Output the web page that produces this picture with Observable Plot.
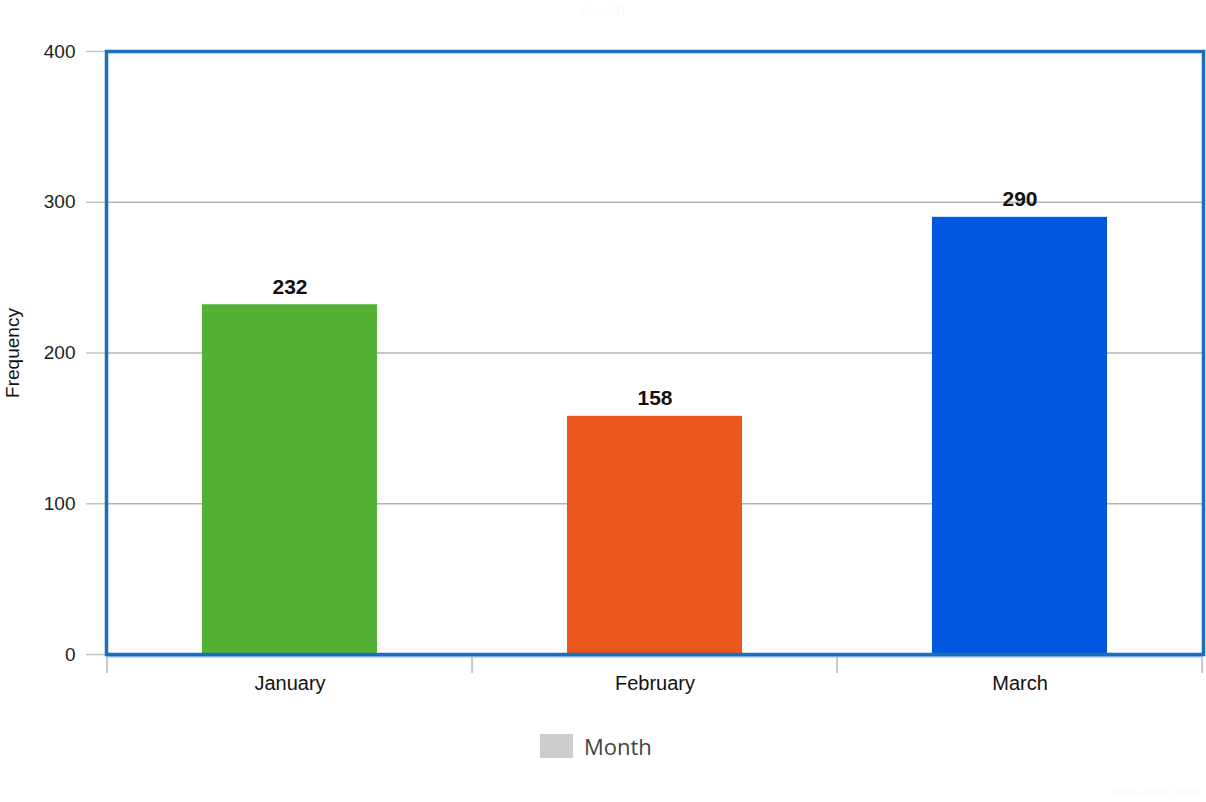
<!DOCTYPE html>
<html>
<head>
<meta charset="utf-8">
<script src="https://cdn.jsdelivr.net/npm/d3@7"></script>
<script src="https://cdn.jsdelivr.net/npm/@observablehq/plot@0.6"></script>
<style>
  html, body { margin: 0; padding: 0; background: #fff; }
  #wrap { position: relative; width: 1206px; height: 802px; font-family: "Liberation Sans", Arial, sans-serif; }
  #title { position: absolute; top: 2px; left: 0; width: 1206px; text-align: center; font-size: 16px; color: #fbfbfb; }
  #chart { position: absolute; top: 0; left: 0; }
  #legend { position: absolute; top: 731px; left: 540px; display: flex; align-items: center; font-family: "Open Sans", sans-serif; font-size: 22px; color: #444; }
  #legend .sw { width: 33px; height: 24px; background: #cccccc; margin-right: 11px; }
  #wm { position: absolute; top: 784px; right: 6px; font-size: 13px; color: #fafafa; }
</style>
</head>
<body>
<div id="wrap">
  <div id="chart"></div>
  <div id="title">Month</div>
  <div id="legend"><div class="sw"></div><span>Month</span></div>
  <div id="wm">meta-chart.com</div>
</div>
<script>
const months = ["January", "February", "March"];
const frequency = [232, 158, 290];
const barColors = ["#53b234", "#ea571d", "#0058e0"];
const yTicks = [0, 100, 200, 300, 400];

const data = months.map((m, i) => ({month: m, value: frequency[i], color: barColors[i]}));
const pInner = 0.52;

const bandEdges = (index, scales, values, dims) => {
  const x = scales.x;
  const x0 = x(months[0]), x1 = x(months[1]);
  const step = x1 - x0;
  const gap = step * pInner;
  const edges = months.map(m => x(m) - gap / 2);
  edges.push(x(months[months.length - 1]) + step - gap / 2);
  const g = d3.create("svg:g");
  const yb = dims.height - dims.marginBottom;
  for (const e of edges) {
    g.append("line").attr("x1", e).attr("x2", e).attr("y1", yb).attr("y2", yb + 19)
      .attr("stroke", "#c8c8c8").attr("stroke-width", 2);
  }
  return g.node();
};

const chart = Plot.plot({
  width: 1206,
  height: 720,
  marginTop: 51,
  marginBottom: 66,
  marginLeft: 106,
  marginRight: 3,
  style: {fontFamily: "'Liberation Sans', Arial, sans-serif", background: "transparent"},
  x: {domain: months, paddingInner: pInner, paddingOuter: pInner / 2, label: null},
  y: {domain: [0, 400], label: null},
  marks: [
    Plot.gridY(yTicks, {stroke: "#b3b3b3", strokeOpacity: 1, strokeWidth: 1.3}),
    Plot.axisY(yTicks, {tickSize: 20, tickPadding: 11, stroke: "#c4c4c4", strokeWidth: 1.5, fill: "#222", fontSize: 19, label: null}),
    Plot.axisX({tickSize: 0, tickPadding: 21, fill: "#111", fontSize: 20, label: null}),
    Plot.barY(data, {x: "month", y: "value", fill: "color"}),
    Plot.text(data, {x: "month", y: "value", text: d => String(d.value), lineAnchor: "bottom", dy: -11, fontSize: 21, fontWeight: "bold", fill: "#111"}),
    Plot.text(["Frequency"], {frameAnchor: "left", textAnchor: "middle", rotate: -90, dx: -94, fontSize: 19, fill: "#111"}),
    bandEdges,
    Plot.ruleY([0], {stroke: "#9cc3e8", strokeWidth: 2, dy: 2}),
    Plot.frame({stroke: "#1c6dbb", strokeWidth: 3.5})
  ]
});
document.getElementById("chart").appendChild(chart);
</script>
</body>
</html>
